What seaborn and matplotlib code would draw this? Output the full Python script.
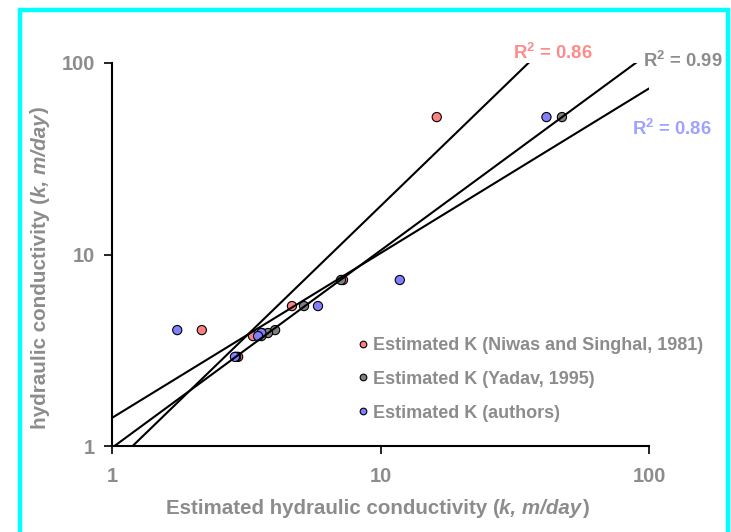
import numpy as np
import pandas as pd
import matplotlib
matplotlib.use("Agg")
import matplotlib.pyplot as plt
from matplotlib.patches import Rectangle
from matplotlib.lines import Line2D
from matplotlib.transforms import IdentityTransform
import seaborn as sns

# Measured hydraulic conductivity (m/day) and the three estimates of it
measured = [52.2, 7.36, 5.38, 4.03, 3.89, 3.75, 2.92]
est_niwas = [16.2, 7.25, 4.68, 2.16, 3.62, 3.35, 2.95]
est_yadav = [47.4, 7.13, 5.19, 4.05, 3.81, 3.60, 2.90]
est_authors = [41.5, 11.8, 5.85, 1.75, 3.60, 3.50, 2.87]

# Coefficients of determination of the power-law trend lines
r_squared = [0.86, 0.99, 0.86]

series_names = [
    "Estimated K (Niwas and Singhal, 1981)",
    "Estimated K (Yadav, 1995)",
    "Estimated K (authors)",
]
point_colors = ["#FF8080", "#808080", "#8080FF"]
label_colors = ["#FF8A8A", "#8C8C8C", "#A0A0FF"]
tick_values = [1, 10, 100]
tick_labels = ["1", "10", "100"]

W, H = 731, 532
TEXT_GREY = "#8C8C8C"

sns.set_theme(style="white")
plt.rcParams["font.family"] = ["Liberation Sans", "DejaVu Sans"]
plt.rcParams["font.weight"] = "bold"
plt.rcParams["mathtext.fontset"] = "custom"
plt.rcParams["mathtext.rm"] = "Liberation Sans:bold"
plt.rcParams["mathtext.bf"] = "Liberation Sans:bold"

frames = []
for name, xs in zip(series_names, [est_niwas, est_yadav, est_authors]):
    frames.append(pd.DataFrame({"estimated": xs, "measured": measured, "series": name}))
df = pd.concat(frames, ignore_index=True)

fig = plt.figure(figsize=(W / 100, H / 100), dpi=100)
fig.patch.set_facecolor("white")
ax = fig.add_axes([112 / W, 1 - 446 / H, 537 / W, 383 / H])
ax.set_xscale("log")
ax.set_yscale("log")

sns.scatterplot(data=df, x="estimated", y="measured", hue="series",
                palette=point_colors, hue_order=series_names, s=44,
                edgecolor="black", linewidth=0.8, legend=False, ax=ax, zorder=3)

# Power-law trend lines fitted in log space, extended across the plot
grid = np.logspace(0, 2, 200)
for xs in [est_niwas, est_yadav, est_authors]:
    b, loga = np.polyfit(np.log10(xs), np.log10(measured), 1)
    line_df = pd.DataFrame({"x": grid, "y": 10 ** loga * grid ** b})
    sns.lineplot(data=line_df, x="x", y="y", color="black", linewidth=1.5,
                 ax=ax, zorder=4)

ax.set_xlim(1, 100)
ax.set_ylim(1, 100)
ax.set_xticks(tick_values)
ax.set_xticklabels(tick_labels)
ax.set_yticks(tick_values)
ax.set_yticklabels(tick_labels)
ax.minorticks_off()
ax.tick_params(axis="both", which="major", direction="out", length=6, width=1.2,
               color="black", labelcolor=TEXT_GREY, labelsize=14.5,
               bottom=True, left=True)
ax.tick_params(axis="x", pad=9)
ax.tick_params(axis="y", pad=6)
for side in ["top", "right"]:
    ax.spines[side].set_visible(False)
for side in ["left", "bottom"]:
    ax.spines[side].set_color("black")
    ax.spines[side].set_linewidth(1.5)
ax.set_facecolor("white")
ax.set_xlabel("")
ax.set_ylabel("")


def mixed_label(pieces, cx, cy, size, vertical=False):
    """Draw a label made of bold upright and bold italic runs, centred at (cx, cy) px from top-left."""
    renderer = fig.canvas.get_renderer()
    widths = []
    for s, style in pieces:
        t = fig.text(0, 0, s, fontsize=size, fontweight="bold", fontstyle=style)
        widths.append(t.get_window_extent(renderer).width)
        t.remove()
    total = sum(widths)
    pos = -total / 2
    for (s, style), w in zip(pieces, widths):
        if vertical:
            x, y, rot = cx, (H - cy) + pos, 90
        else:
            x, y, rot = cx + pos, H - cy, 0
        fig.text(x, y, s, fontsize=size, fontweight="bold", fontstyle=style,
                 color=TEXT_GREY, ha="left", va="center", rotation=rot,
                 rotation_mode="anchor", transform=IdentityTransform())
        pos += w


mixed_label([("Estimated hydraulic conductivity (", "normal"),
             ("k, m/day", "italic"), (")", "normal")], 377, 508, 14.8)
mixed_label([("hydraulic conductivity (", "normal"),
             ("k, m/day", "italic"), (")", "normal")], 40, 268, 14.9, vertical=True)

# R-squared labels beside each trend line
r2_pos = [(513, 53), (643, 61), (632, 129)]
for r2, (px, py), col in zip(r_squared, r2_pos, label_colors):
    fig.text(px / W, 1 - py / H, r"R$^{\mathbf{2}}$ = %.2f" % r2,
             color=col, fontsize=13.3, fontweight="bold", va="center", ha="left")

handles = [Line2D([], [], marker="o", linestyle="none", markersize=4.8,
                  markerfacecolor=c, markeredgecolor="black", markeredgewidth=0.8)
           for c in point_colors]
leg = ax.legend(handles, series_names, loc="upper left",
                bbox_to_anchor=(358 / W, 1 - 337 / H),
                bbox_transform=fig.transFigure, frameon=False, borderpad=0,
                borderaxespad=0, labelspacing=0.93, handletextpad=0.22,
                handlelength=0.6, prop={"size": 13.0, "weight": "bold"})
for t in leg.get_texts():
    t.set_color(TEXT_GREY)

# Cyan chart-area border
fig.add_artist(Rectangle((20 / W, -0.05), 708 / W, 1.05 - 10 / H,
                         transform=fig.transFigure, fill=False,
                         edgecolor="#00FFFF", linewidth=3.2, clip_on=False))

fig.savefig("out.png", dpi=100)
